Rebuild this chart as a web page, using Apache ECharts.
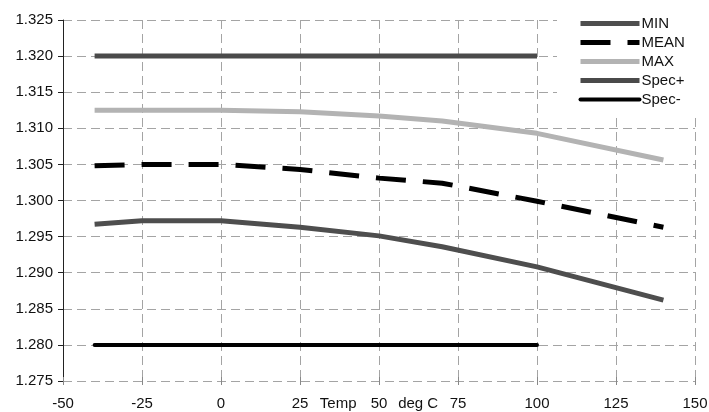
<!DOCTYPE html>
<html>
<head>
<meta charset="utf-8">
<script src="https://cdn.jsdelivr.net/npm/echarts@6/dist/echarts.min.js"></script>
<style>html,body{margin:0;padding:0;background:#fff}#c{width:709px;height:412px}</style>
</head>
<body>
<div id="c"></div>
<script>
// Data
const temps = [-40, -25, 0, 25, 50, 70, 100, 140];
const minVals  = [1.2967, 1.2972, 1.2972, 1.2963, 1.2951, 1.2936, 1.2908, 1.2862];
const meanVals = [1.3048, 1.3050, 1.3050, 1.3043, 1.3031, 1.3024, 1.2999, 1.2963];
const maxVals  = [1.3125, 1.3125, 1.3125, 1.3123, 1.3117, 1.3110, 1.3093, 1.3056];
const specTemps = [-40, 100];
const specPlus  = [1.320, 1.320];
const specMinus = [1.280, 1.280];
const seriesNames = ['MIN', 'MEAN', 'MAX', 'Spec+', 'Spec-'];
const xTitle = 'Temp          deg C';

const pairs = (xs, ys) => xs.map((x, i) => [x, ys[i]]);
const FONT = 'Liberation Sans, Arial, sans-serif';
const gridLine = {show: true, lineStyle: {color: '#a4a4a4', type: [9, 5], width: 1}};
const widths = {'MIN': 5, 'MEAN': 5, 'MAX': 5, 'Spec+': 5, 'Spec-': 4};

const chart = echarts.init(document.getElementById('c'));
chart.setOption({
  animation: false,
  backgroundColor: '#fff',
  grid: {left: 63, right: 14, top: 20, bottom: 31, outerBoundsMode: 'none', containLabel: false},
  legend: {
    data: seriesNames.map(n => ({name: n, lineStyle: {width: widths[n]}})),
    orient: 'vertical',
    left: 557, top: 0,
    padding: [16, 40, 8, 21],
    backgroundColor: '#fff',
    itemWidth: 59, itemHeight: 15, itemGap: 4,
    itemStyle: {opacity: 0},
    textStyle: {fontFamily: FONT, fontSize: 15, color: '#111', padding: [0, 0, 0, -3]},
    z: 10
  },
  xAxis: [{
    type: 'value', min: -50, max: 150, interval: 25,
    name: xTitle, nameLocation: 'middle', nameGap: 15, nameMoveOverlap: false,
    nameTextStyle: {fontFamily: FONT, fontSize: 15, color: '#111', verticalAlign: 'top'},
    axisLine: {show: false},
    axisTick: {show: true, length: 4, lineStyle: {color: '#888'}},
    axisLabel: {fontFamily: FONT, fontSize: 15, color: '#111', margin: 15},
    splitLine: gridLine
  }, {
    type: 'value', min: -50, max: 150, interval: 25, position: 'bottom',
    axisLine: {show: false},
    axisTick: {show: true, inside: true, length: 4, lineStyle: {color: '#888'}},
    axisLabel: {show: false}, splitLine: {show: false}
  }],
  yAxis: {
    type: 'value', min: 1.275, max: 1.325, interval: 0.005,
    axisLine: {show: true, onZero: false, lineStyle: {color: '#222', width: 1}},
    axisTick: {show: true, length: 5, lineStyle: {color: '#222'}},
    axisLabel: {fontFamily: FONT, fontSize: 15, color: '#111', margin: 10,
      formatter: v => v.toFixed(3)},
    splitLine: gridLine
  },
  series: [
    {name: 'MIN', type: 'line', data: pairs(temps, minVals), symbol: 'none',
     lineStyle: {color: '#4e4e4e', width: 5}, itemStyle: {color: '#4e4e4e'}},
    {name: 'MEAN', type: 'line', data: pairs(temps, meanVals), symbol: 'none',
     lineStyle: {color: '#000', width: 5, type: [30, 17]}, itemStyle: {color: '#000'}},
    {name: 'MAX', type: 'line', data: pairs(temps, maxVals), symbol: 'none',
     lineStyle: {color: '#b3b3b3', width: 5}, itemStyle: {color: '#b3b3b3'}},
    {name: 'Spec+', type: 'line', data: pairs(specTemps, specPlus), symbol: 'none',
     lineStyle: {color: '#4a4a4a', width: 5}, itemStyle: {color: '#4a4a4a'}},
    {name: 'Spec-', type: 'line', data: pairs(specTemps, specMinus), symbol: 'none',
     lineStyle: {color: '#000', width: 4, cap: 'round'}, itemStyle: {color: '#000'}}
  ]
});
</script>
</body>
</html>
